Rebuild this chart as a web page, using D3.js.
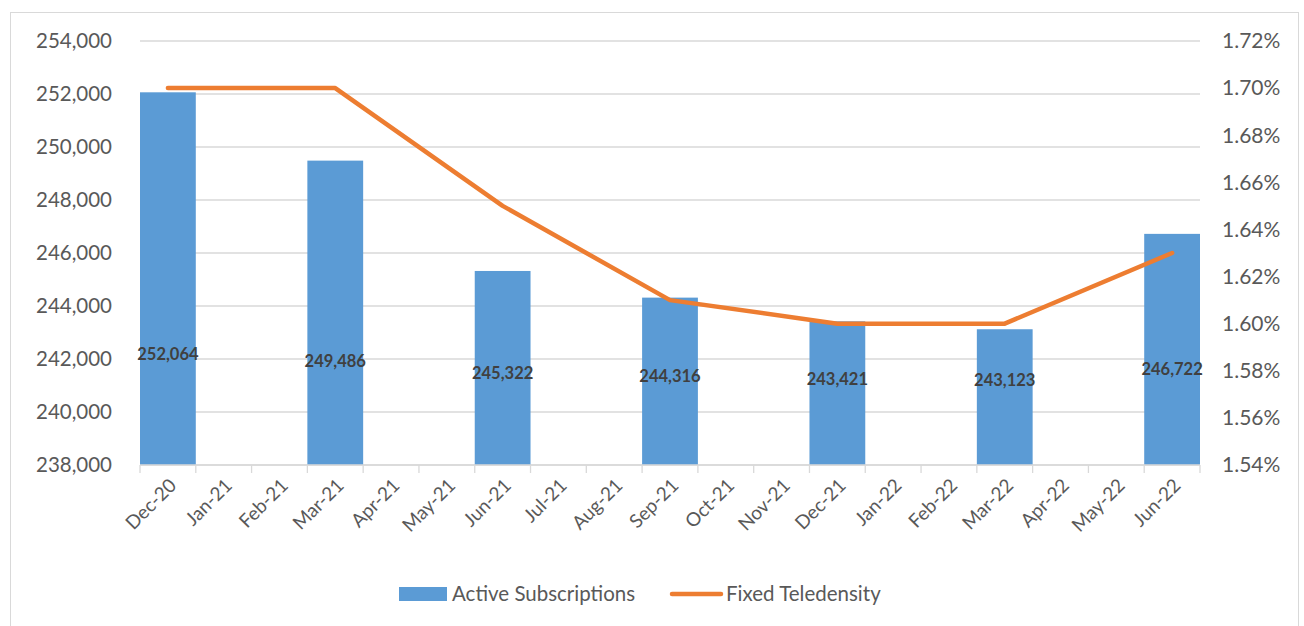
<!DOCTYPE html>
<html>
<head>
<meta charset="utf-8">
<script src="https://cdn.jsdelivr.net/npm/d3@7"></script>
<style>
  body { margin: 0; background: #fff; }
  svg { display: block; font-family: Lato, "Open Sans", sans-serif; }
</style>
</head>
<body>
<div class="chart"></div>
<script>
const months = ['Dec-20', 'Jan-21', 'Feb-21', 'Mar-21', 'Apr-21', 'May-21', 'Jun-21', 'Jul-21', 'Aug-21',
  'Sep-21', 'Oct-21', 'Nov-21', 'Dec-21', 'Jan-22', 'Feb-22', 'Mar-22', 'Apr-22', 'May-22', 'Jun-22'];
const quarters = ['Dec-20', 'Mar-21', 'Jun-21', 'Sep-21', 'Dec-21', 'Mar-22', 'Jun-22'];
const subscriptions = [252064, 249486, 245322, 244316, 243421, 243123, 246722];
const teledensity = [1.70, 1.70, 1.65, 1.61, 1.60, 1.60, 1.63];
const leftTicks = [238000, 240000, 242000, 244000, 246000, 248000, 250000, 252000, 254000];
const rightTicks = [1.54, 1.56, 1.58, 1.60, 1.62, 1.64, 1.66, 1.68, 1.70, 1.72];

const W = 1304, H = 626;
const margin = {top: 41, right: 104, bottom: 161, left: 140};
const width = W - margin.left - margin.right;
const height = H - margin.top - margin.bottom;

const root = d3.select('.chart')
  .append('svg')
  .attr('width', W)
  .attr('height', H);

// chart area border
root.append('rect')
  .attr('x', 10.5).attr('y', 12.5)
  .attr('width', 1288).attr('height', 640)
  .attr('fill', 'none')
  .attr('stroke', '#d9d9d9');

const svg = root.append('g')
  .attr('transform', `translate(${margin.left}, ${margin.top})`);

const x = d3.scaleBand().domain(months).range([0, width]).padding(0);
const yL = d3.scaleLinear().domain([238000, 254000]).range([height, 0]);
const yR = d3.scaleLinear().domain([1.54, 1.72]).range([height, 0]);

// gridlines
svg.append('g')
  .selectAll('line')
  .data(leftTicks)
  .join('line')
  .attr('x1', 0).attr('x2', width)
  .attr('y1', d => yL(d)).attr('y2', d => yL(d))
  .attr('stroke', '#d9d9d9')
  .attr('stroke-width', 1.3);

// bars
svg.append('g')
  .selectAll('rect')
  .data(quarters)
  .join('rect')
  .attr('x', d => x(d))
  .attr('width', x.bandwidth())
  .attr('y', (d, i) => yL(subscriptions[i]))
  .attr('height', (d, i) => height - yL(subscriptions[i]))
  .attr('fill', '#5b9bd5');

// bottom axis
const xAxis = svg.append('g')
  .attr('transform', `translate(0, ${height})`);
xAxis.append('line')
  .attr('x1', 0).attr('x2', width)
  .attr('stroke', '#d9d9d9').attr('stroke-width', 1.3);
xAxis.selectAll('.tick')
  .data(d3.range(months.length + 1))
  .join('line')
  .attr('x1', i => i * x.step()).attr('x2', i => i * x.step())
  .attr('y1', 0).attr('y2', 8)
  .attr('stroke', '#d9d9d9').attr('stroke-width', 1.3);
xAxis.selectAll('text')
  .data(months)
  .join('text')
  .attr('transform', d => `translate(${x(d) + x.bandwidth() / 2 + 5}, 17) rotate(-45)`)
  .attr('text-anchor', 'end')
  .attr('dy', '0.35em')
  .attr('fill', '#595959')
  .style('font-size', '19px')
  .text(d => d);

// left axis labels
svg.append('g')
  .selectAll('text')
  .data(leftTicks)
  .join('text')
  .attr('x', -28)
  .attr('y', d => yL(d))
  .attr('dy', '0.35em')
  .attr('text-anchor', 'end')
  .attr('fill', '#595959')
  .style('font-size', '20.5px')
  .text(d3.format(','));

// right axis labels
svg.append('g')
  .selectAll('text')
  .data(rightTicks)
  .join('text')
  .attr('x', width + 22)
  .attr('y', d => yR(d))
  .attr('dy', '0.35em')
  .attr('fill', '#595959')
  .style('font-size', '21px')
  .text(d => d.toFixed(2) + '%');

// teledensity line
const line = d3.line()
  .x((d, i) => x(quarters[i]) + x.bandwidth() / 2)
  .y(d => yR(d));
svg.append('path')
  .datum(teledensity)
  .attr('d', line)
  .attr('fill', 'none')
  .attr('stroke', '#ed7d31')
  .attr('stroke-width', 4.5)
  .attr('stroke-linecap', 'round')
  .attr('stroke-linejoin', 'round');

// data labels (placed inside bars, lower half)
svg.append('g')
  .selectAll('text')
  .data(subscriptions)
  .join('text')
  .attr('x', (d, i) => x(quarters[i]) + x.bandwidth() / 2)
  .attr('y', d => height - (70 + 0.11 * (height - yL(d))))
  .attr('dy', '0.35em')
  .attr('text-anchor', 'middle')
  .attr('fill', '#404040')
  .style('font-size', '16.5px')
  .style('font-weight', 'bold')
  .text(d3.format(','));

// legend
const legend = root.append('g').attr('transform', 'translate(0, 594)');
legend.append('rect')
  .attr('x', 399).attr('y', -7)
  .attr('width', 48).attr('height', 14)
  .attr('fill', '#5b9bd5');
legend.append('text')
  .attr('x', 452).attr('y', 0).attr('dy', '0.35em')
  .attr('fill', '#595959')
  .style('font-size', '20.5px')
  .text('Active Subscriptions');
legend.append('line')
  .attr('x1', 672).attr('x2', 721)
  .attr('stroke', '#ed7d31').attr('stroke-width', 4.5)
  .attr('stroke-linecap', 'round');
legend.append('text')
  .attr('x', 726).attr('y', 0).attr('dy', '0.35em')
  .attr('fill', '#595959')
  .style('font-size', '20.5px')
  .text('Fixed Teledensity');
</script>
</body>
</html>
